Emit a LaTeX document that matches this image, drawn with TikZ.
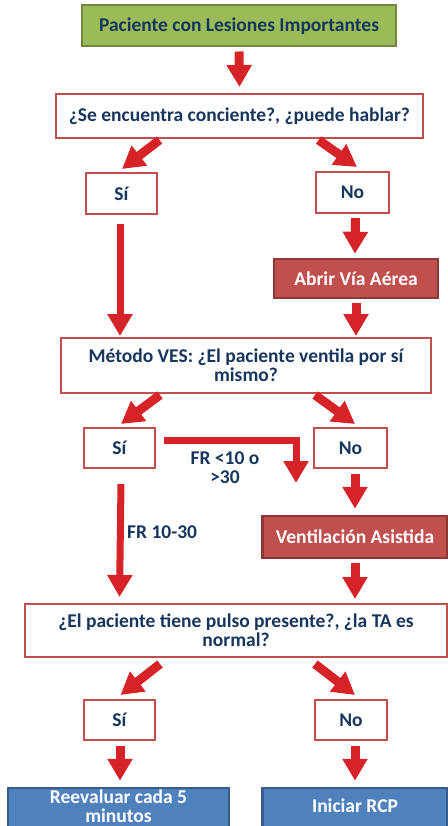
\documentclass[tikz,border=0pt]{standalone}
\usepackage{fontspec}
\setmainfont{Carlito}
\usetikzlibrary{arrows.meta,calc}
\definecolor{txtnavy}{RGB}{23,54,93}
\definecolor{boxred}{RGB}{192,80,77}
\definecolor{boxreddark}{RGB}{140,56,54}
\definecolor{arrred}{RGB}{214,35,40}
\definecolor{grfill}{RGB}{155,187,89}
\definecolor{grline}{RGB}{113,137,63}
\definecolor{blfill}{RGB}{79,129,189}
\definecolor{blline}{RGB}{56,93,138}
\begin{document}
\begin{tikzpicture}[x=1pt,y=-1pt,
  basefont/.style={font=\fontsize{19.5}{19}\selectfont\bfseries, align=center, inner sep=0pt},
  startbox/.style={basefont, draw=grline, fill=grfill, line width=2pt, text=txtnavy, minimum width=314pt, minimum height=41pt},
  qbox/.style={basefont, draw=boxred, fill=white, line width=2pt, text=txtnavy},
  actbox/.style={basefont, draw=boxreddark, fill=boxred, line width=2.5pt, text=white},
  endbox/.style={basefont, draw=blline, fill=blfill, line width=2.5pt, text=white},
  lbl/.style={basefont, text=txtnavy},
  bigarrow/.style={draw=arrred, line width=9pt, -{Triangle[width=24pt,length=22pt]}},
  thinarrow/.style={draw=arrred, line width=7pt, -{Triangle[width=24pt,length=22pt]}}
]
\useasboundingbox (0,0) rectangle (447,826);
% nodes
\node[startbox] (top) at (239,26) {Paciente con Lesiones Importantes};
\node[qbox, minimum width=367pt, minimum height=44pt] (q1) at (239.5,116) {¿Se encuentra conciente?, ¿puede hablar?};
\node[qbox, minimum width=71pt, minimum height=41pt] (si1) at (121.5,193.5) {Sí};
\node[qbox, minimum width=73pt, minimum height=41pt] (no1) at (352.5,192.5) {No};
\node[actbox, minimum width=164pt, minimum height=39pt] (abrir) at (356,278.5) {Abrir Vía Aérea};
\node[qbox, minimum width=370pt, minimum height=55pt] (metodo) at (246,365.5) {Método VES: ¿El paciente ventila por sí\\mismo?};
\node[qbox, minimum width=71pt, minimum height=40pt] (si2) at (119.5,448) {Sí};
\node[qbox, minimum width=73pt, minimum height=40pt] (no2) at (350.5,448) {No};
\node[actbox, minimum width=185pt, minimum height=42pt] (vent) at (355,537) {Ventilación Asistida};
\node[qbox, minimum width=422pt, minimum height=53pt] (q3) at (236,630.5) {¿El paciente tiene pulso presente?, ¿la TA es\\normal?};
\node[qbox, minimum width=71pt, minimum height=40pt] (si3) at (119.5,720) {Sí};
\node[qbox, minimum width=72pt, minimum height=40pt] (no3) at (351,720) {No};
\node[endbox, minimum width=221pt, minimum height=48pt] (reev) at (118.5,812) {};
\node[basefont, text=white] (reevtxt) at (118.5,806) {Reevaluar cada 5\\minutos};
\node[endbox, minimum width=185pt, minimum height=48pt] (rcp) at (355,812) {};
\node[basefont, text=white] (rcptxt) at (355,806) {Iniciar RCP};
\node[lbl] (frlow) at (225,468) {FR <10 o\\>30};
\node[lbl, anchor=west] (frmid) at (127,532) {FR 10-30};
\coordinate (elbowend) at (296,483);
% connectors
\draw[bigarrow] ([yshift=-4pt]top.south) -- ([yshift=6pt]q1.north);
\draw[bigarrow] ([xshift=-80pt,yshift=-1pt]q1.south) -- ([xshift=0.5pt,yshift=3pt]si1.north);
\draw[bigarrow] ([xshift=79pt,yshift=-1pt]q1.south) -- ([xshift=4.5pt,yshift=4pt]no1.north);
\draw[bigarrow] ([xshift=3pt,yshift=-4pt]no1.south) -- ([xshift=-1pt,yshift=4pt]abrir.north);
\draw[thinarrow] ([xshift=-1.5pt,yshift=-9pt]si1.south) -- ([xshift=-1.5pt,yshift=1pt]si1.south |- metodo.north);
\draw[bigarrow] ([yshift=-4pt]abrir.south) -- ([yshift=1pt]abrir.south |- metodo.north);
\draw[bigarrow] ([xshift=-86pt,yshift=-1pt]metodo.south) -- ([xshift=1.5pt,yshift=3pt]si2.north);
\draw[bigarrow] ([xshift=69pt,yshift=-1pt]metodo.south) -- ([xshift=4.5pt,yshift=3pt]no2.north);
\draw[thinarrow] ([xshift=8pt,yshift=8pt]si2.east) -| (elbowend);
\draw[bigarrow] ([xshift=4.5pt,yshift=-5pt]no2.south) -- ([yshift=6pt]vent.north);
\draw[thinarrow] ([xshift=1.5pt,yshift=-15pt]si2.south) -- ([yshift=6pt]si2.south |- q3.north);
\draw[bigarrow] ([yshift=-4pt]vent.south) -- ([yshift=4pt]vent.south |- q3.north);
\draw[bigarrow] ([xshift=-76pt,yshift=-6pt]q3.south) -- ([xshift=1pt,yshift=4pt]si3.north);
\draw[bigarrow] ([xshift=79pt,yshift=-6pt]q3.south) -- ([xshift=4pt,yshift=4pt]no3.north);
\draw[bigarrow] ([xshift=0.5pt,yshift=-5pt]si3.south) -- ([xshift=0.5pt,yshift=6pt]si3.south |- reev.north);
\draw[bigarrow] ([xshift=4pt,yshift=-5pt]no3.south) -- ([xshift=4pt,yshift=6pt]no3.south |- rcp.north);
\end{tikzpicture}
\end{document}
